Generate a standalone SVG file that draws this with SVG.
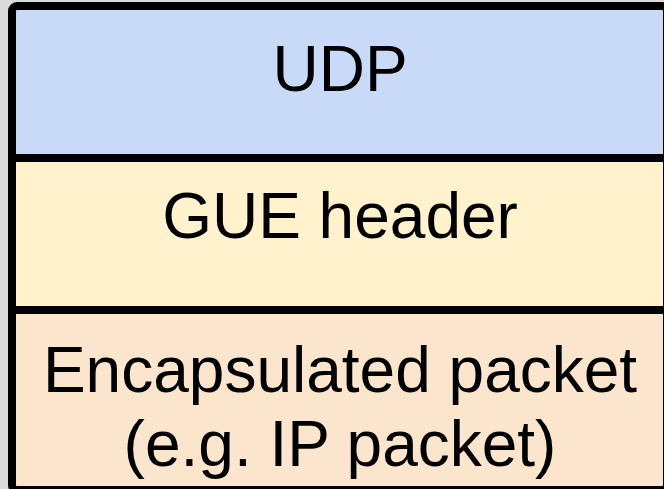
<svg xmlns="http://www.w3.org/2000/svg" width="664" height="489" viewBox="0 0 664 489">
<style>
.t{font-family:"Liberation Sans",Arial,sans-serif;font-size:64px;fill:#000;text-anchor:middle}
.div{stroke:#000;stroke-width:8}
</style>
<rect x="0" y="0" width="664" height="489" fill="#dadada"/>
<g id="udp">
<rect x="12" y="6" width="655" height="152" fill="#c9daf8"/>
<text class="t" x="340" y="91">UDP</text>
</g>
<g id="gue">
<rect x="12" y="158" width="655" height="152" fill="#fff2cc"/>
<text class="t" x="340" y="238">GUE header</text>
</g>
<g id="payload">
<rect x="12" y="310" width="655" height="180" fill="#fce5cd"/>
<text class="t" x="340" y="392">Encapsulated packet</text>
<text class="t" x="340" y="466">(e.g. IP packet)</text>
</g>
<g id="connectors">
<rect x="12" y="6" width="655" height="484" rx="5" fill="none" stroke="#000" stroke-width="8"/>
<line class="div" x1="12" y1="158" x2="667" y2="158"/>
<line class="div" x1="12" y1="310" x2="667" y2="310"/>
</g>
</svg>
